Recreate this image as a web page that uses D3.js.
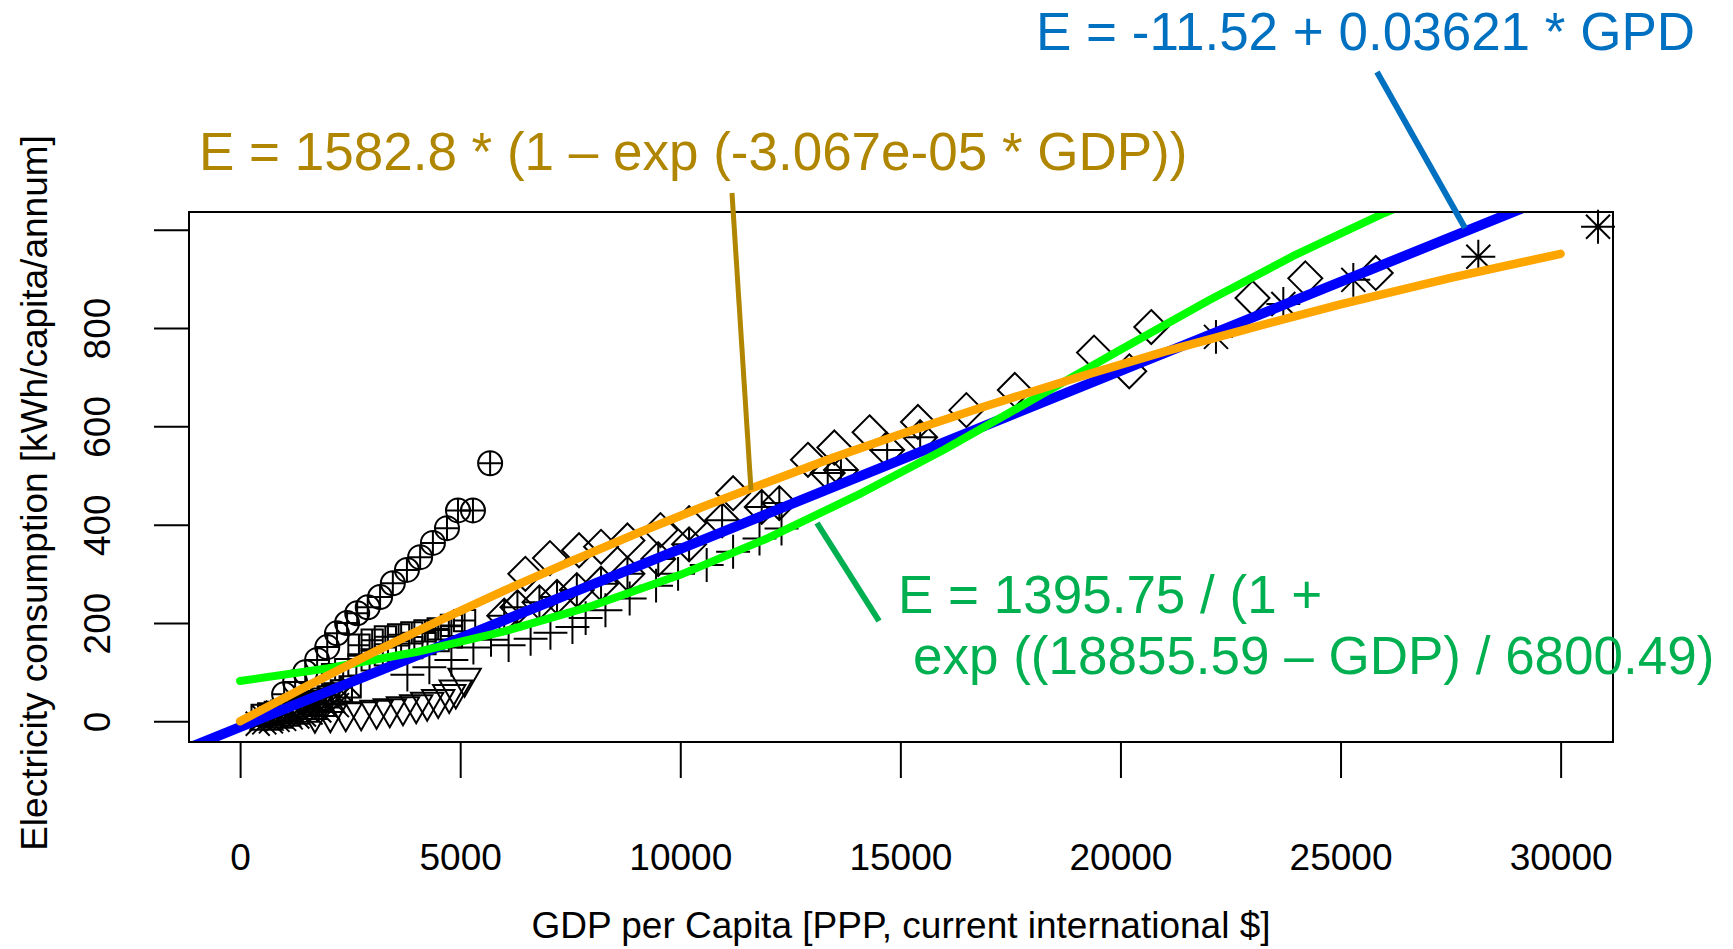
<!doctype html>
<html lang="en">
<head>
<meta charset="utf-8">
<title>Electricity consumption vs GDP per capita</title>
<script src="https://d3js.org/d3.v7.min.js"></script>
<style>
body { margin: 0; background: #fff; }
svg { display: block; font-family: "Liberation Sans", Arial, sans-serif; }
.axis path.domain { display: none; }
.axis line { stroke: #000; stroke-width: 2; }
.axis text { font-size: 37px; fill: #000; font-family: "Liberation Sans", Arial, sans-serif; }
.pt { fill: none; stroke: #000; stroke-width: 2; }
</style>
</head>
<body>
<div id="vis"></div>
<script>
// ---- data ----
var xTicks = [0, 5000, 10000, 15000, 20000, 25000, 30000];
var xTickLabels = ["0", "5000", "10000", "15000", "20000", "25000", "30000"];
var yTicks = [0, 200, 400, 600, 800, 1000];
var yTickLabels = ["0", "200", "400", "600", "800", ""];

// scatter series, one per plotting symbol (R pch)
var circlePlusX = [1000, 1250, 1480, 1750, 1980, 2200, 2430, 2660, 2900, 3180, 3470, 3790, 4090, 4380, 4700, 4950, 5290, 5680];
var circlePlusY = [55, 80, 100, 125, 151, 179, 200, 220, 232, 253, 281, 308, 334, 363, 393, 429, 429, 525];
var squarePlusX = [2700, 3000, 3300, 3600, 3900, 4200, 4500, 4800, 5100];
var squarePlusY = [155, 165, 172, 176, 180, 184, 188, 195, 205];
var squareX = [2100, 2400, 2700, 3000, 3300, 3600, 3900, 4200, 4500, 4800];
var squareY = [95, 105, 115, 125, 135, 142, 150, 158, 164, 172];
var triDownX = [1700, 2050, 2400, 2750, 3100, 3400, 3700, 4000, 4250, 4500, 4750, 4900, 5100];
var triDownY = [15, 16, 18, 20, 23, 26, 30, 34, 39, 45, 55, 64, 88];
var plusX = [3800, 4300, 4800, 5300, 5700, 6100, 6600, 7050, 7550, 7850, 8300, 8850, 9450, 9950, 10600, 11200, 11800, 12300];
var plusY = [95, 110, 125, 150, 166, 155, 168, 180, 192, 210, 226, 250, 276, 300, 318, 345, 372, 392];
var diamondX = [6480, 7040, 7700, 8200, 8800, 9550, 10200, 11200, 12900, 13500, 14300, 15400, 16500, 17600, 19400, 20200, 20700, 23000, 24200, 25800];
var diamondY = [300, 332, 348, 355, 368, 389, 403, 464, 532, 557, 588, 609, 633, 674, 750, 712, 802, 861, 901, 912];
var diamondPlusX = [6000, 6300, 6800, 7200, 7650, 8200, 8800, 9500, 10200, 10950, 11850, 12250, 13350, 13650, 14700, 15450];
var diamondPlusY = [215, 232, 242, 253, 267, 280, 300, 330, 360, 409, 436, 444, 505, 511, 552, 578];
var asteriskX = [22170, 23700, 25290, 28130, 30850];
var asteriskY = [782, 849, 898, 945, 1006];
var crossX = [400, 550, 700, 850, 1000, 1150, 1300, 1450, 1600, 1800, 2000, 2200];
var crossY = [-5, -2, 0, 3, 5, 8, 10, 14, 18, 22, 27, 33];
var squareCrossX = [500, 650, 800, 950, 1100, 1250, 1400, 1550, 1700, 1850, 2000, 2150, 2300, 2500];
var squareCrossY = [12, 15, 18, 21, 24, 28, 32, 36, 40, 45, 50, 56, 62, 70];
var triUpX = [600, 800, 1000, 1200, 1400, 1600, 1800, 2000];
var triUpY = [2, 6, 10, 14, 18, 24, 30, 38];

// fitted curves
var linearX = [-1200, 29500];
var linearY = [-55, 1057];
var expX = [0, 1500, 3000, 4500, 6000, 7500, 9000, 10500, 12000, 13500, 15000, 17000, 19000, 21000, 23000, 25000, 27500, 30000];
var expY = [0, 71, 139, 204, 266, 325, 382, 436, 487, 537, 584, 643, 699, 752, 801, 848, 902, 951];
var logisticX = [0, 2000, 4000, 6000, 8000, 10000, 12000, 14000, 16000, 18000, 20000, 22000, 24000, 26000, 26500];
var logisticY = [82, 108, 141, 183, 235, 298, 373, 459, 553, 654, 756, 856, 950, 1034, 1053];

// ---- layout ----
var W = 1733, H = 949;
var plot = { left: 189, right: 1613, top: 212, bottom: 742 };

var svg = d3.select("#vis").append("svg")
    .attr("width", W)
    .attr("height", H);

svg.append("rect").attr("width", W).attr("height", H).attr("fill", "#fff");

var x = d3.scaleLinear().domain([-1161, 31190]).range([plot.left, plot.right]);
var y = d3.scaleLinear().domain([-42, 1036]).range([plot.bottom, plot.top]);

svg.append("clipPath").attr("id", "clip")
  .append("rect")
    .attr("x", plot.left).attr("y", plot.top)
    .attr("width", plot.right - plot.left)
    .attr("height", plot.bottom - plot.top);

// axes
var xAxis = d3.axisBottom(x)
    .tickValues(xTicks)
    .tickSize(36)
    .tickFormat(function(d, i) { return xTickLabels[i]; });

svg.append("g")
    .attr("class", "x axis")
    .attr("transform", "translate(0," + plot.bottom + ")")
    .call(xAxis)
  .selectAll("text")
    .attr("y", 128)
    .attr("dy", null);

var yAxis = d3.axisLeft(y)
    .tickValues(yTicks)
    .tickSize(35)
    .tickFormat(function(d, i) { return yTickLabels[i]; });

svg.append("g")
    .attr("class", "y axis")
    .attr("transform", "translate(" + plot.left + ",0)")
    .call(yAxis)
  .selectAll("text")
    .attr("transform", "rotate(-90)")
    .attr("x", 0)
    .attr("y", -79)
    .attr("dy", null)
    .style("text-anchor", "middle");

// axis titles
svg.append("text")
    .attr("x", (plot.left + plot.right) / 2)
    .attr("y", 938)
    .attr("text-anchor", "middle")
    .style("font-size", "37px")
    .text("GDP per Capita [PPP, current international $]");

svg.append("text")
    .attr("transform", "translate(47," + 493 + ") rotate(-90)")
    .attr("text-anchor", "middle")
    .style("font-size", "37px")
    .text("Electricity consumption [kWh/capita/annum]");

// plotting symbols like R's pch set
var R = 12;
function symbolPath(pch) {
    var s = R * 0.886, d = R * 1.414, p = R * 1.414;
    var sq = "M" + (-s) + "," + (-s) + "H" + s + "V" + s + "H" + (-s) + "Z";
    var dm = "M0," + (-d) + "L" + d + ",0L0," + d + "L" + (-d) + ",0Z";
    var ci = "M" + R + ",0A" + R + "," + R + " 0 1,1 " + (-R) + ",0A" + R + "," + R + " 0 1,1 " + R + ",0Z";
    var r = R * 1.555, xc = R * 1.347, yc = R * 0.778;
    switch (pch) {
        case 0: return sq;
        case 2: return "M0," + (-r) + "L" + xc + "," + yc + "L" + (-xc) + "," + yc + "Z";
        case 3: return "M" + (-p) + ",0H" + p + "M0," + (-p) + "V" + p;
        case 4: return "M" + (-R) + "," + (-R) + "L" + R + "," + R + "M" + (-R) + "," + R + "L" + R + "," + (-R);
        case 5: return dm;
        case 6: return "M0," + r + "L" + xc + "," + (-yc) + "L" + (-xc) + "," + (-yc) + "Z";
        case 7: return sq + "M" + (-s) + "," + (-s) + "L" + s + "," + s + "M" + (-s) + "," + s + "L" + s + "," + (-s);
        case 8: return "M" + (-p) + ",0H" + p + "M0," + (-p) + "V" + p +
                       "M" + (-R) + "," + (-R) + "L" + R + "," + R + "M" + (-R) + "," + R + "L" + R + "," + (-R);
        case 9: return dm + "M" + (-d) + ",0H" + d + "M0," + (-d) + "V" + d;
        case 10: return ci + "M" + (-R) + ",0H" + R + "M0," + (-R) + "V" + R;
        case 12: return sq + "M" + (-s) + ",0H" + s + "M0," + (-s) + "V" + s;
    }
    return ci;
}

var series = [
    { xs: squareCrossX, ys: squareCrossY, pch: 7 },
    { xs: triUpX, ys: triUpY, pch: 2 },
    { xs: crossX, ys: crossY, pch: 4 },
    { xs: triDownX, ys: triDownY, pch: 6 },
    { xs: squareX, ys: squareY, pch: 0 },
    { xs: squarePlusX, ys: squarePlusY, pch: 12 },
    { xs: circlePlusX, ys: circlePlusY, pch: 10 },
    { xs: plusX, ys: plusY, pch: 3 },
    { xs: diamondPlusX, ys: diamondPlusY, pch: 9 },
    { xs: diamondX, ys: diamondY, pch: 5 },
    { xs: asteriskX, ys: asteriskY, pch: 8 }
];

var pts = svg.append("g");
series.forEach(function(s) {
    var data = s.xs.map(function(v, i) { return [v, s.ys[i]]; });
    pts.selectAll(null)
        .data(data)
      .enter().append("path")
        .attr("class", "pt")
        .attr("transform", function(d) { return "translate(" + x(d[0]) + "," + y(d[1]) + ")"; })
        .attr("d", symbolPath(s.pch));
});

// fitted curves
var line = d3.line()
    .x(function(d) { return x(d[0]); })
    .y(function(d) { return y(d[1]); });

function drawFit(xs, ys, color, width) {
    svg.append("path")
        .datum(xs.map(function(v, i) { return [v, ys[i]]; }))
        .attr("clip-path", "url(#clip)")
        .attr("d", line)
        .attr("fill", "none")
        .attr("stroke", color)
        .attr("stroke-width", width)
        .attr("stroke-linecap", "round")
        .attr("stroke-linejoin", "round");
}
drawFit(linearX, linearY, "#0000ff", 10);
drawFit(logisticX, logisticY, "#00ff00", 8);
drawFit(expX, expY, "#ffa500", 8.5);

// plot box
svg.append("rect")
    .attr("x", plot.left).attr("y", plot.top)
    .attr("width", plot.right - plot.left)
    .attr("height", plot.bottom - plot.top)
    .attr("fill", "none")
    .attr("stroke", "#000")
    .attr("stroke-width", 2);

// equation labels with leader lines
var notes = [
    { color: "#0070c0", lines: ["E = -11.52 + 0.03621 * GPD"], tx: [1036], ty: [50], leader: [[1377, 72], [1465, 228]], lw: 6 },
    { color: "#b08600", lines: ["E = 1582.8 * (1 \u2013 exp (-3.067e-05 * GDP))"], tx: [199], ty: [170], leader: [[732, 193], [751, 490]], lw: 5 },
    { color: "#00b050", lines: ["E = 1395.75 / (1 +", "exp ((18855.59 \u2013 GDP) / 6800.49)"], tx: [898, 913], ty: [613, 674], leader: [[817, 523], [879, 621]], lw: 6 }
];

notes.forEach(function(n) {
    svg.append("line")
        .attr("x1", n.leader[0][0]).attr("y1", n.leader[0][1])
        .attr("x2", n.leader[1][0]).attr("y2", n.leader[1][1])
        .attr("stroke", n.color)
        .attr("stroke-width", n.lw);
    n.lines.forEach(function(t, i) {
        svg.append("text")
            .attr("x", n.tx[i])
            .attr("y", n.ty[i])
            .attr("fill", n.color)
            .style("font-size", "53px")
            .text(t);
    });
});
</script>
</body>
</html>
